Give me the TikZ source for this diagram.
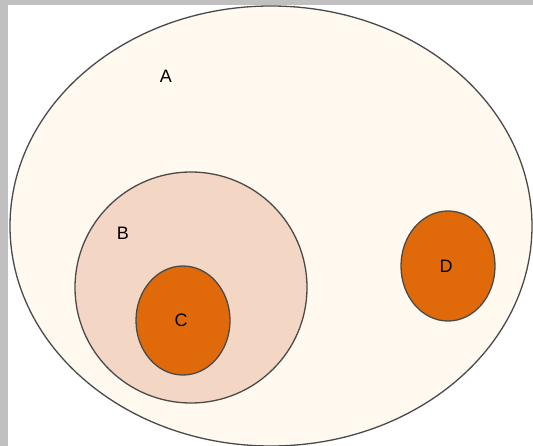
\documentclass[tikz,border=0pt]{standalone}
\usepackage{fontspec}
\setmainfont{Liberation Sans}
\usetikzlibrary{shapes.geometric}
\definecolor{frame}{HTML}{C0C0C0}
\definecolor{setA}{HTML}{FFF9EF}
\definecolor{setB}{HTML}{F3D6C3}
\definecolor{setC}{HTML}{E06A0A}
\definecolor{edge}{HTML}{4A4A4A}
\tikzset{
  setshape/.style={ellipse, draw=edge, line width=1.3pt, inner sep=0pt},
  lbl/.style={font=\fontsize{18}{18}\selectfont, text=black, inner sep=0pt}
}
\begin{document}
\begin{tikzpicture}[x=1pt,y=-1pt]
\useasboundingbox (0,0) rectangle (533,446);
\fill[white] (0,0) rectangle (533,446);
\fill[frame] (0,0) rectangle (533,5);
\fill[frame] (0,0) rectangle (8,446);
\node[setshape, fill=setA, minimum width=522pt, minimum height=440pt] (A) at (271,226) {};
\node[setshape, fill=setB, minimum width=232pt, minimum height=231pt] (B) at (191,287.5) {};
\node[setshape, fill=setC, minimum width=94pt, minimum height=109pt] (C) at (183,320.5) {};
\node[setshape, fill=setC, minimum width=94pt, minimum height=110pt] (D) at (448,266) {};
\node[lbl] (la) at (166,76) {A};
\node[lbl] (lb) at (123,233) {B};
\node[lbl] (lc) at (181,320) {C};
\node[lbl] (ld) at (446,266) {D};
\end{tikzpicture}
\end{document}
